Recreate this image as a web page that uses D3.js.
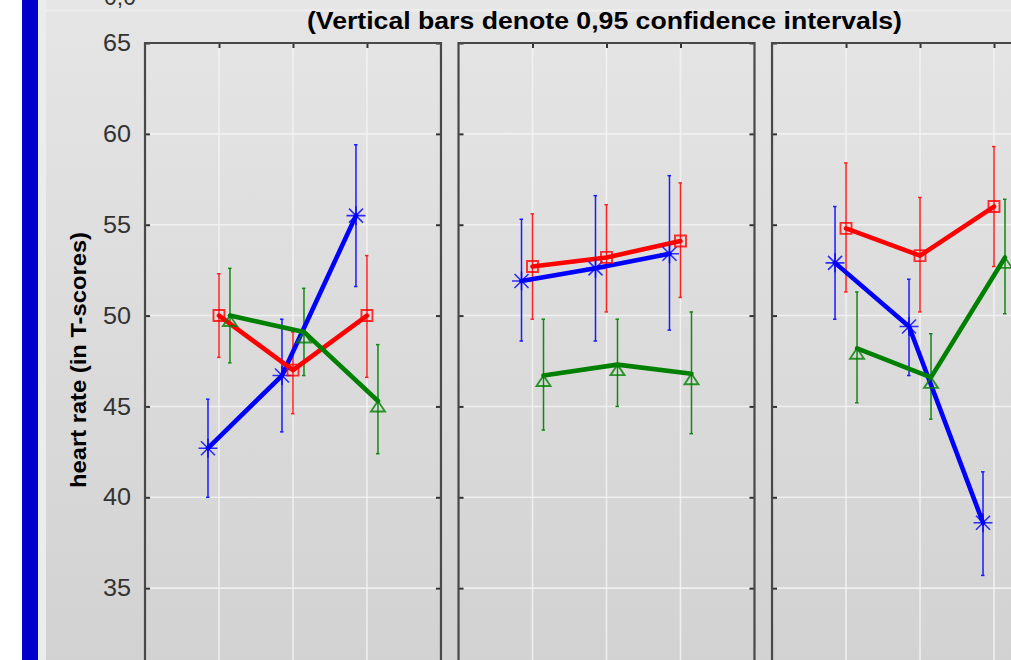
<!DOCTYPE html>
<html>
<head>
<meta charset="utf-8">
<title>heart rate</title>
<style>
	body, html { margin:0px; background:#ffffff; }
	svg { display:block; font-family:"Liberation Sans", Arial, sans-serif; }
</style>
<script src="https://cdnjs.cloudflare.com/ajax/libs/d3/7.8.5/d3.min.js"></script>
</head>
<body>
<svg id="chart" width="1011" height="660"></svg>
<script>

// ---- data ----
var panels = ["Group 1", "Group 2", "Group 3"];
var phases = ["Phase 1", "Phase 2", "Phase 3"];
var seriesNames = ["Series 1", "Series 2", "Series 3"];
var yTicks = [35, 40, 45, 50, 55, 60, 65];
var cutTickLabel = "0,0";

var title = "(Vertical bars denote 0,95 confidence intervals)";
var yLabel = "heart rate (in T-scores)";

// one row per panel, one value per phase
var blueMean = [[42.7, 46.7, 55.5], [51.9, 52.6, 53.4], [52.9, 49.4, 38.6]];
var blueLow  = [[40.0, 43.6, 51.6], [48.6, 48.6, 49.2], [49.8, 46.7, 35.7]];
var blueHigh = [[45.4, 49.8, 59.4], [55.3, 56.6, 57.7], [56.0, 52.0, 41.4]];

var redMean = [[50.0, 47.0, 50.0], [52.7, 53.2, 54.1], [54.8, 53.3, 56.0]];
var redLow  = [[47.7, 44.6, 46.6], [49.8, 50.2, 51.0], [51.3, 50.2, 52.7]];
var redHigh = [[52.3, 49.1, 53.3], [55.6, 56.1, 57.3], [58.4, 56.5, 59.3]];

var greenMean = [[50.0, 49.1, 45.3], [46.7, 47.3, 46.8], [48.2, 46.6, 53.2]];
var greenLow  = [[47.4, 46.7, 42.4], [43.7, 45.0, 43.5], [45.2, 44.3, 50.1]];
var greenHigh = [[52.6, 51.5, 48.4], [49.8, 49.8, 50.2], [51.3, 49.0, 56.4]];

var series = [
	{name: seriesNames[0], color: "#0000ff", bar: "#1a1aff", marker: "star", mean: blueMean, low: blueLow, high: blueHigh},
	{name: seriesNames[1], color: "#ff0000", bar: "#ff2020", marker: "square", mean: redMean, low: redLow, high: redHigh},
	{name: seriesNames[2], color: "#008000", bar: "#118811", marker: "triangle", mean: greenMean, low: greenLow, high: greenHigh}
];

// ---- scales ----
var svg = d3.select("#chart");
var y = d3.scaleLinear().domain([30, 65]).range([679, 43]);
var px = d3.scaleBand().domain(panels).range([145, 1068]).paddingInner(0.056);
var cx = d3.scalePoint().domain(phases).range([0, px.bandwidth()]).padding(1);
var off = d3.scalePoint().domain(seriesNames).range([-11, 11]);

// ---- background ----
var defs = svg.append("defs");
var grad = defs.append("linearGradient").attr("id", "bg").attr("x1", 0).attr("y1", 0).attr("x2", 0).attr("y2", 1);
grad.append("stop").attr("offset", "0%").attr("stop-color", "#e5e5e5");
grad.append("stop").attr("offset", "100%").attr("stop-color", "#d2d2d2");

svg.append("rect").attr("x", 22).attr("y", 0).attr("width", 16).attr("height", 660).attr("fill", "#0000cc");
svg.append("rect").attr("x", 38).attr("y", 0).attr("width", 973).attr("height", 660).attr("fill", "#ececec");
svg.append("rect").attr("x", 46).attr("y", 0).attr("width", 965).attr("height", 9).attr("fill", "#e6e6e6");
svg.append("rect").attr("x", 46).attr("y", 12).attr("width", 965).attr("height", 648).attr("fill", "url(#bg)");

// tick label of the chart above, cut by the top edge as in the picture
svg.append("text")
	.attr("x", 136).attr("y", 5)
	.attr("text-anchor", "end")
	.attr("font-size", 23)
	.attr("fill", "#333")
	.text(cutTickLabel);

// ---- title and y label ----
svg.append("text")
	.attr("x", (px.range()[0] + px.range()[1]) / 2 - 2)
	.attr("y", 29)
	.attr("text-anchor", "middle")
	.attr("font-size", 23)
	.attr("font-weight", "bold")
	.attr("fill", "#000")
	.attr("textLength", 595)
	.attr("lengthAdjust", "spacingAndGlyphs")
	.text(title);

svg.append("text")
	.attr("transform", "translate(86," + 360 + ") rotate(-90)")
	.attr("text-anchor", "middle")
	.attr("font-size", 22)
	.attr("font-weight", "bold")
	.attr("fill", "#000")
	.attr("textLength", 256)
	.attr("lengthAdjust", "spacingAndGlyphs")
	.text(yLabel);

// y tick labels on the first panel
var yAxis = svg.append("g")
	.attr("transform", "translate(" + px(panels[0]) + ",0)")
	.call(d3.axisLeft(y).tickValues(yTicks).tickSize(0).tickPadding(14));
yAxis.select(".domain").remove();
yAxis.selectAll("text")
	.attr("font-size", 24)
	.attr("font-family", "Liberation Sans, Arial, sans-serif")
	.attr("fill", "#333")
	.attr("textLength", 28)
	.attr("lengthAdjust", "spacingAndGlyphs");

// ---- panels ----
panels.forEach(function(p, pi) {
	var g = svg.append("g").attr("transform", "translate(" + px(p) + ",0)");
	var w = px.bandwidth();

	// grid
	g.selectAll(".hgrid").data(yTicks).enter().append("line")
		.attr("x1", 0).attr("x2", w)
		.attr("y1", function(d) { return y(d); }).attr("y2", function(d) { return y(d); })
		.attr("stroke", "#f4f4f4").attr("stroke-width", 1.6).attr("opacity", 0.85);
	g.selectAll(".vgrid").data(phases).enter().append("line")
		.attr("x1", function(d) { return cx(d); }).attr("x2", function(d) { return cx(d); })
		.attr("y1", y(65)).attr("y2", 660)
		.attr("stroke", "#f4f4f4").attr("stroke-width", 1.6).attr("opacity", 0.85);

	// inward ticks
	var lt = g.append("g").call(d3.axisRight(y).tickValues(yTicks).tickSize(5).tickFormat(""));
	var rt = g.append("g").attr("transform", "translate(" + w + ",0)")
		.call(d3.axisLeft(y).tickValues(yTicks).tickSize(5).tickFormat(""));
	var tt = g.append("g").attr("transform", "translate(0," + y(65) + ")")
		.call(d3.axisBottom(cx).tickSize(5).tickFormat(""));
	[lt, rt, tt].forEach(function(a) {
		a.select(".domain").remove();
		a.selectAll("line").attr("stroke", "#333").attr("stroke-width", 2);
	});

	// border
	g.append("path")
		.attr("d", "M0,660V" + y(65) + "H" + w + "V660")
		.attr("fill", "none").attr("stroke", "#484848").attr("stroke-width", 2.2);

	// error bars
	series.forEach(function(s) {
		var bars = g.append("g").attr("stroke", s.bar).attr("stroke-width", 1.5).attr("fill", "none");
		phases.forEach(function(ph, i) {
			var x = cx(ph) + off(s.name);
			bars.append("line").attr("x1", x).attr("x2", x)
				.attr("y1", y(s.low[pi][i])).attr("y2", y(s.high[pi][i]));
			bars.append("line").attr("x1", x - 2).attr("x2", x + 1.5)
				.attr("y1", y(s.low[pi][i])).attr("y2", y(s.low[pi][i]));
			bars.append("line").attr("x1", x - 2).attr("x2", x + 1.5)
				.attr("y1", y(s.high[pi][i])).attr("y2", y(s.high[pi][i]));
		});
	});

	// lines
	series.forEach(function(s) {
		var line = d3.line()
			.x(function(d, i) { return cx(phases[i]) + off(s.name); })
			.y(function(d) { return y(d); });
		g.append("path")
			.attr("d", line(s.mean[pi]))
			.attr("fill", "none").attr("stroke", s.color)
			.attr("stroke-width", 4.6).attr("stroke-linejoin", "round").attr("stroke-linecap", "round");
	});

	// markers
	series.forEach(function(s) {
		g.selectAll(".m" + s.marker).data(s.mean[pi]).enter().append("path")
			.attr("transform", function(d, i) {
				return "translate(" + (cx(phases[i]) + off(s.name)) + "," + y(d) + ")";
			})
			.attr("d", function() {
				if (s.marker === "star") {
					var r = 9.5, q = 7;
					return "M" + (-r) + ",0H" + r + "M0," + (-r) + "V" + r +
						"M" + (-q) + "," + (-q) + "L" + q + "," + q +
						"M" + (-q) + "," + q + "L" + q + "," + (-q);
				}
				if (s.marker === "square") return "M-5.5,-5.5H5.5V5.5H-5.5Z";
				return "M0,0L7,10.5H-7Z";
			})
			.attr("fill", "none")
			.attr("stroke", s.color)
			.attr("stroke-width", s.marker === "star" ? 1.6 : 1.9)
			.attr("opacity", 0.8);
	});
});

</script>
</body>
</html>
